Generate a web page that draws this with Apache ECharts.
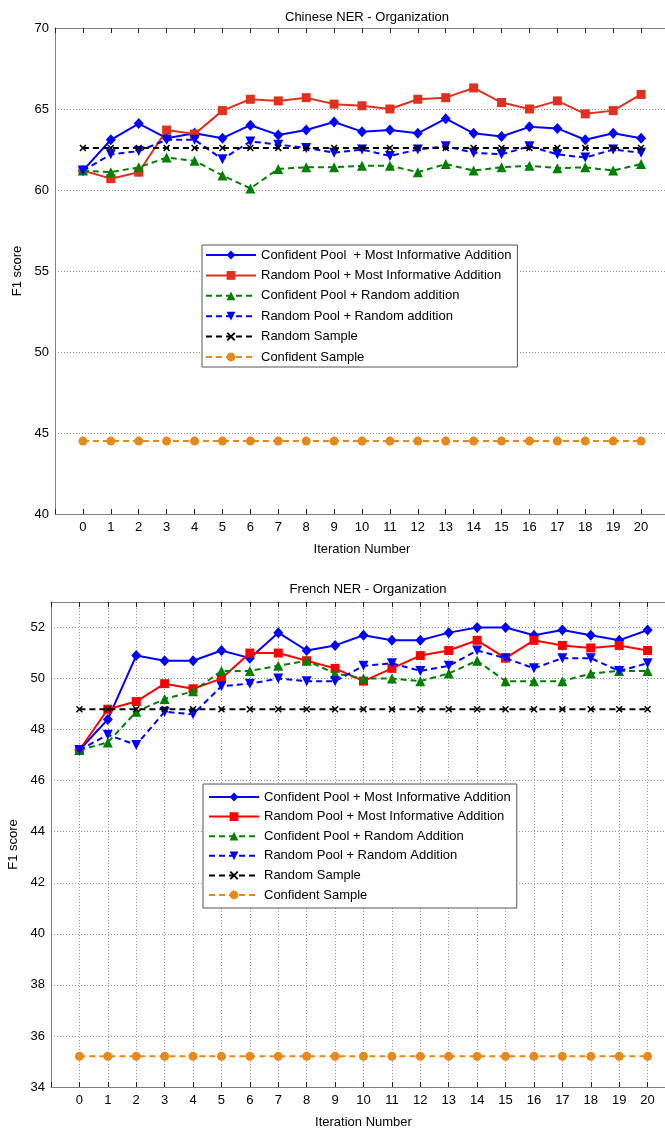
<!DOCTYPE html>
<html>
<head>
<meta charset="utf-8">
<script src="https://cdn.jsdelivr.net/npm/echarts@6/dist/echarts.min.js"></script>
<style>
html,body{margin:0;padding:0;background:#fff;}
#c1{position:absolute;left:0;top:0;width:665px;height:568px;}
#c2{position:absolute;left:0;top:568px;width:665px;height:567px;}
</style>
</head>
<body>
<div id="c1"></div>
<div id="c2"></div>
<script>
const iterations = [0,1,2,3,4,5,6,7,8,9,10,11,12,13,14,15,16,17,18,19,20];

// Chinese NER - Organization
const zhTitle = 'Chinese NER - Organization';
const zhNames = ['Confident Pool  + Most Informative Addition','Random Pool + Most Informative Addition','Confident Pool + Random addition','Random Pool + Random addition','Random Sample','Confident Sample'];
const zhConfMI   = [61.2,63.1,64.1,63.2,63.5,63.2,64.0,63.4,63.7,64.2,63.6,63.7,63.5,64.4,63.5,63.3,63.9,63.8,63.1,63.5,63.2];
const zhRandMI   = [61.2,60.7,61.1,63.7,63.45,64.9,65.6,65.5,65.7,65.3,65.2,65.0,65.6,65.7,66.3,65.4,65.0,65.5,64.7,64.9,65.9];
const zhConfRand = [61.2,61.1,61.4,62.0,61.8,60.9,60.1,61.3,61.4,61.4,61.5,61.5,61.1,61.6,61.2,61.4,61.5,61.35,61.4,61.2,61.6];
const zhRandRand = [61.2,62.2,62.4,63.1,63.1,61.9,63.0,62.8,62.6,62.3,62.5,62.1,62.5,62.7,62.3,62.2,62.7,62.2,62.0,62.5,62.3];
const zhRandSample = [62.6,62.6,62.6,62.6,62.6,62.6,62.6,62.6,62.6,62.6,62.6,62.6,62.6,62.6,62.6,62.6,62.6,62.6,62.6,62.6,62.6];
const zhConfSample = [44.5,44.5,44.5,44.5,44.5,44.5,44.5,44.5,44.5,44.5,44.5,44.5,44.5,44.5,44.5,44.5,44.5,44.5,44.5,44.5,44.5];
const zhYTicks = {min:40, max:70, interval:5};

// French NER - Organization
const frTitle = 'French NER - Organization';
const frNames = ['Confident Pool + Most Informative Addition','Random Pool + Most Informative Addition','Confident Pool + Random Addition','Random Pool + Random Addition','Random Sample','Confident Sample'];
const frConfMI   = [47.2,48.4,50.9,50.7,50.7,51.1,50.8,51.8,51.1,51.3,51.7,51.5,51.5,51.8,52.0,52.0,51.7,51.9,51.7,51.5,51.9];
const frRandMI   = [47.2,48.8,49.1,49.8,49.6,50.0,51.0,51.0,50.7,50.4,49.9,50.4,50.9,51.1,51.5,50.8,51.5,51.3,51.2,51.3,51.1];
const frConfRand = [47.2,47.5,48.7,49.2,49.5,50.3,50.3,50.5,50.7,50.2,50.0,50.0,49.9,50.2,50.7,49.9,49.9,49.9,50.2,50.3,50.3];
const frRandRand = [47.2,47.8,47.4,48.7,48.6,49.7,49.8,50.0,49.9,49.9,50.5,50.6,50.3,50.5,51.1,50.8,50.4,50.8,50.8,50.3,50.6];
const frRandSample = [48.8,48.8,48.8,48.8,48.8,48.8,48.8,48.8,48.8,48.8,48.8,48.8,48.8,48.8,48.8,48.8,48.8,48.8,48.8,48.8,48.8];
const frConfSample = [35.2,35.2,35.2,35.2,35.2,35.2,35.2,35.2,35.2,35.2,35.2,35.2,35.2,35.2,35.2,35.2,35.2,35.2,35.2,35.2,35.2];
const frYTicks = {min:34, max:53, interval:2};

const FONT = 'Liberation Sans, Arial, sans-serif';
const XMARK = 'path://M0,1.5 L1.5,0 L5,3.5 L8.5,0 L10,1.5 L6.5,5 L10,8.5 L8.5,10 L5,6.5 L1.5,10 L0,8.5 L3.5,5 Z';

function pairs(v){ return iterations.map((x,i)=>[x, v[i]]); }

function mkSeries(names, arrs, redColor){
  const styles = [
    {color:'#0000ff', type:'solid', symbol:'diamond', size:[10,11], rot:0},
    {color:redColor, type:'solid', symbol:'rect', size:9, rot:0},
    {color:'#008000', type:[6,4], symbol:'triangle', size:10, rot:0},
    {color:'#0000ff', type:[6,4], symbol:'triangle', size:10, rot:180},
    {color:'#000000', type:[6,4], symbol:XMARK, size:7, rot:0},
    {color:'#e5891a', type:[6,4], symbol:'circle', size:9, rot:0}
  ];
  return arrs.map((a,i)=>({
    name:names[i], type:'line', data:pairs(a),
    symbol:styles[i].symbol, symbolSize:styles[i].size, symbolRotate:styles[i].rot,
    lineStyle:{color:styles[i].color, width:2, type:styles[i].type},
    itemStyle:{color:styles[i].color},
    animation:false, z:2+i
  }));
}

function mkOption(cfg){
  const xlab = v => (v<0||v>20)?'':String(v);
  const ylab = v => ((v-cfg.y.min)%cfg.y.interval!==0)?'':String(v);
  const frame = {onZero:false, show:true, lineStyle:{color:'#808080', width:1}};
  return {
    backgroundColor:'#fff',
    animation:false,
    title:{text:cfg.title, left:cfg.titleX, textAlign:'center', top:cfg.titleTop,
      textStyle:{fontFamily:FONT, fontSize:13, fontWeight:'normal', color:'#000'}},
    grid:Object.assign({containLabel:false, outerBoundsMode:'none'}, cfg.grid),
    legend:{orient:'vertical', left:cfg.legend.left, top:cfg.legend.top,
      padding:cfg.legend.padding, itemWidth:50, itemHeight:11, itemGap:cfg.legend.gap,
      backgroundColor:'#fff', borderColor:'#555', borderWidth:1, borderRadius:0,
      textStyle:{fontFamily:FONT, fontSize:13, color:'#000', lineHeight:14}, data:cfg.names,
      selectedMode:false},
    xAxis:[
      {type:'value', min:-1, max:21, interval:1, name:'Iteration Number', nameLocation:'middle', nameGap:cfg.xNameGap,
       nameTextStyle:{fontFamily:FONT, fontSize:13, color:'#000'},
       axisLine:frame,
       axisTick:{inside:true, length:5, lineStyle:{color:'#222'}},
       axisLabel:{formatter:xlab, fontFamily:FONT, fontSize:13, color:'#000', margin:7},
       splitLine:{show:cfg.vgrid, lineStyle:{color:'#999', type:[1,2], width:1}}},
      {type:'value', position:'top', min:-1, max:21, interval:1,
       axisLine:frame,
       axisTick:{inside:true, length:5, lineStyle:{color:'#222'}},
       axisLabel:{show:false}, splitLine:{show:false}}
    ],
    yAxis:[
      {type:'value', min:cfg.y.min, max:cfg.y.max, interval:cfg.y.interval, name:'F1 score', nameLocation:'middle', nameGap:cfg.yNameGap,
       nameTextStyle:{fontFamily:FONT, fontSize:13, color:'#000'},
       axisLine:frame,
       axisTick:{show:false},
       axisLabel:{formatter:ylab, fontFamily:FONT, fontSize:13, color:'#000', margin:6},
       splitLine:{show:true, lineStyle:{color:'#999', type:[1,2], width:1}}},
      {type:'value', position:'right', min:cfg.y.min, max:cfg.y.max, interval:cfg.y.interval,
       axisLine:frame,
       axisTick:{show:false}, axisLabel:{show:false}, splitLine:{show:false}}
    ],
    series:cfg.series
  };
}

const c1 = echarts.init(document.getElementById('c1'), null, {renderer:'canvas'});
c1.setOption(mkOption({
  title:zhTitle, titleTop:6, titleX:362, names:zhNames,
  grid:{left:55, top:28, width:614, height:486},
  legend:{left:202, top:245, padding:[3,6,3,3], gap:6.4},
  y:zhYTicks, vgrid:false, xNameGap:29, yNameGap:30,
  series:mkSeries(zhNames,[zhConfMI,zhRandMI,zhConfRand,zhRandRand,zhRandSample,zhConfSample],'#e0301e')
}));

const c2 = echarts.init(document.getElementById('c2'), null, {renderer:'canvas'});
c2.setOption(mkOption({
  title:frTitle, titleTop:10, titleX:363, names:frNames,
  grid:{left:51, top:34, width:625, height:485},
  legend:{left:203, top:216, padding:[6,6,6,5], gap:5.6},
  y:frYTicks, vgrid:true, xNameGap:29, yNameGap:30,
  series:mkSeries(frNames,[frConfMI,frRandMI,frConfRand,frRandRand,frRandSample,frConfSample],'#ff0000')
}));
</script>
</body>
</html>
